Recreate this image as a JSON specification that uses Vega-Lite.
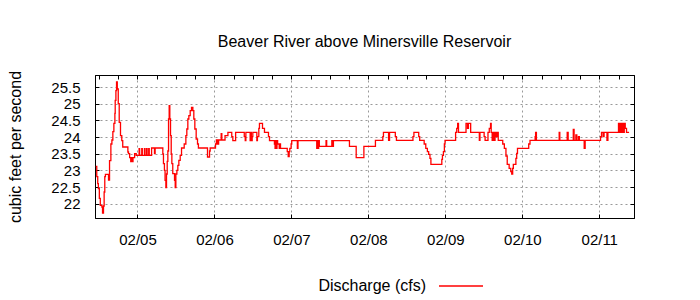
{
  "$schema": "https://vega.github.io/schema/vega-lite/v6.json",
  "width": 539,
  "height": 143,
  "autosize": {"type": "none"},
  "padding": {"left": 95, "top": 75, "right": 66, "bottom": 82},
  "background": "white",
  "title": {"text": "Beaver River above Minersville Reservoir", "font": "Liberation Sans", "fontSize": 16, "fontWeight": "normal", "color": "black", "anchor": "middle", "offset": 20},
  "config": {"view": {"stroke": "black", "strokeWidth": 1}, "font": "Liberation Sans"},
  "data": {"values": [
    {"t": "2011-02-04T11:00", "q": 23.12},
    {"t": "2011-02-04T11:18", "q": 22.81},
    {"t": "2011-02-04T11:36", "q": 22.6},
    {"t": "2011-02-04T11:48", "q": 22.45},
    {"t": "2011-02-04T12:06", "q": 22.16},
    {"t": "2011-02-04T12:24", "q": 21.95},
    {"t": "2011-02-04T12:54", "q": 21.9},
    {"t": "2011-02-04T13:06", "q": 21.72},
    {"t": "2011-02-04T13:24", "q": 21.93},
    {"t": "2011-02-04T13:36", "q": 22.35},
    {"t": "2011-02-04T13:48", "q": 22.81},
    {"t": "2011-02-04T14:00", "q": 22.88},
    {"t": "2011-02-04T14:58", "q": 22.71},
    {"t": "2011-02-04T15:17", "q": 23.29},
    {"t": "2011-02-04T15:42", "q": 23.79},
    {"t": "2011-02-04T16:01", "q": 23.91},
    {"t": "2011-02-04T16:19", "q": 24.16},
    {"t": "2011-02-04T16:38", "q": 24.41},
    {"t": "2011-02-04T16:57", "q": 24.71},
    {"t": "2011-02-04T17:03", "q": 25.1},
    {"t": "2011-02-04T17:16", "q": 25.39},
    {"t": "2011-02-04T17:28", "q": 25.65},
    {"t": "2011-02-04T17:42", "q": 25.44},
    {"t": "2011-02-04T18:00", "q": 25.0},
    {"t": "2011-02-04T18:18", "q": 24.44},
    {"t": "2011-02-04T18:42", "q": 24.04},
    {"t": "2011-02-04T19:06", "q": 23.89},
    {"t": "2011-02-04T19:24", "q": 23.7},
    {"t": "2011-02-04T21:00", "q": 23.55},
    {"t": "2011-02-04T21:12", "q": 23.5},
    {"t": "2011-02-04T21:33", "q": 23.38},
    {"t": "2011-02-04T21:54", "q": 23.26},
    {"t": "2011-02-04T22:09", "q": 23.38},
    {"t": "2011-02-04T22:24", "q": 23.26},
    {"t": "2011-02-04T22:36", "q": 23.38},
    {"t": "2011-02-04T23:06", "q": 23.5},
    {"t": "2011-02-04T23:36", "q": 23.45},
    {"t": "2011-02-05T00:00", "q": 23.45},
    {"t": "2011-02-05T00:30", "q": 23.65},
    {"t": "2011-02-05T00:40", "q": 23.45},
    {"t": "2011-02-05T01:20", "q": 23.65},
    {"t": "2011-02-05T01:30", "q": 23.45},
    {"t": "2011-02-05T02:10", "q": 23.65},
    {"t": "2011-02-05T02:20", "q": 23.45},
    {"t": "2011-02-05T02:50", "q": 23.65},
    {"t": "2011-02-05T03:00", "q": 23.45},
    {"t": "2011-02-05T03:30", "q": 23.65},
    {"t": "2011-02-05T03:40", "q": 23.45},
    {"t": "2011-02-05T04:24", "q": 23.67},
    {"t": "2011-02-05T05:18", "q": 23.5},
    {"t": "2011-02-05T05:30", "q": 23.67},
    {"t": "2011-02-05T07:54", "q": 23.49},
    {"t": "2011-02-05T08:06", "q": 23.2},
    {"t": "2011-02-05T08:24", "q": 23.0},
    {"t": "2011-02-05T08:36", "q": 22.7},
    {"t": "2011-02-05T08:51", "q": 22.48},
    {"t": "2011-02-05T09:03", "q": 22.89},
    {"t": "2011-02-05T09:16", "q": 23.27},
    {"t": "2011-02-05T09:28", "q": 23.58},
    {"t": "2011-02-05T09:41", "q": 24.54},
    {"t": "2011-02-05T09:53", "q": 24.94},
    {"t": "2011-02-05T10:05", "q": 24.54},
    {"t": "2011-02-05T10:18", "q": 24.04},
    {"t": "2011-02-05T10:31", "q": 23.49},
    {"t": "2011-02-05T10:43", "q": 23.2},
    {"t": "2011-02-05T11:00", "q": 22.9},
    {"t": "2011-02-05T11:33", "q": 22.7},
    {"t": "2011-02-05T11:46", "q": 22.48},
    {"t": "2011-02-05T11:58", "q": 22.89},
    {"t": "2011-02-05T12:17", "q": 23.0},
    {"t": "2011-02-05T12:35", "q": 23.15},
    {"t": "2011-02-05T12:54", "q": 23.3},
    {"t": "2011-02-05T13:19", "q": 23.45},
    {"t": "2011-02-05T13:44", "q": 23.67},
    {"t": "2011-02-05T14:34", "q": 23.79},
    {"t": "2011-02-05T15:05", "q": 24.04},
    {"t": "2011-02-05T15:23", "q": 24.24},
    {"t": "2011-02-05T15:42", "q": 24.54},
    {"t": "2011-02-05T16:01", "q": 24.64},
    {"t": "2011-02-05T16:26", "q": 24.79},
    {"t": "2011-02-05T16:51", "q": 24.89},
    {"t": "2011-02-05T17:16", "q": 24.79},
    {"t": "2011-02-05T17:34", "q": 24.54},
    {"t": "2011-02-05T17:53", "q": 24.24},
    {"t": "2011-02-05T18:18", "q": 23.94},
    {"t": "2011-02-05T18:43", "q": 23.79},
    {"t": "2011-02-05T19:00", "q": 23.67},
    {"t": "2011-02-05T21:50", "q": 23.4},
    {"t": "2011-02-05T22:28", "q": 23.58},
    {"t": "2011-02-05T22:40", "q": 23.67},
    {"t": "2011-02-06T00:20", "q": 23.79},
    {"t": "2011-02-06T00:36", "q": 23.91},
    {"t": "2011-02-06T00:57", "q": 23.79},
    {"t": "2011-02-06T01:18", "q": 23.91},
    {"t": "2011-02-06T02:06", "q": 24.1},
    {"t": "2011-02-06T02:18", "q": 23.91},
    {"t": "2011-02-06T03:18", "q": 24.04},
    {"t": "2011-02-06T04:12", "q": 24.14},
    {"t": "2011-02-06T05:24", "q": 24.01},
    {"t": "2011-02-06T05:44", "q": 23.89},
    {"t": "2011-02-06T06:36", "q": 24.14},
    {"t": "2011-02-06T09:18", "q": 24.01},
    {"t": "2011-02-06T09:36", "q": 23.89},
    {"t": "2011-02-06T09:48", "q": 24.14},
    {"t": "2011-02-06T11:08", "q": 23.89},
    {"t": "2011-02-06T11:21", "q": 24.14},
    {"t": "2011-02-06T11:30", "q": 23.89},
    {"t": "2011-02-06T11:46", "q": 24.01},
    {"t": "2011-02-06T11:58", "q": 24.14},
    {"t": "2011-02-06T13:13", "q": 23.89},
    {"t": "2011-02-06T13:24", "q": 24.01},
    {"t": "2011-02-06T13:50", "q": 24.26},
    {"t": "2011-02-06T14:02", "q": 24.41},
    {"t": "2011-02-06T14:59", "q": 24.26},
    {"t": "2011-02-06T15:36", "q": 24.14},
    {"t": "2011-02-06T16:51", "q": 24.01},
    {"t": "2011-02-06T17:10", "q": 23.89},
    {"t": "2011-02-06T18:42", "q": 23.79},
    {"t": "2011-02-06T18:54", "q": 23.66},
    {"t": "2011-02-06T19:06", "q": 23.89},
    {"t": "2011-02-06T19:18", "q": 23.66},
    {"t": "2011-02-06T19:30", "q": 23.89},
    {"t": "2011-02-06T19:42", "q": 23.79},
    {"t": "2011-02-06T20:12", "q": 23.66},
    {"t": "2011-02-06T20:24", "q": 23.79},
    {"t": "2011-02-06T20:36", "q": 23.66},
    {"t": "2011-02-06T22:42", "q": 23.56},
    {"t": "2011-02-06T23:00", "q": 23.41},
    {"t": "2011-02-06T23:18", "q": 23.56},
    {"t": "2011-02-06T23:30", "q": 23.66},
    {"t": "2011-02-06T23:54", "q": 23.79},
    {"t": "2011-02-07T00:06", "q": 23.89},
    {"t": "2011-02-07T01:51", "q": 23.66},
    {"t": "2011-02-07T02:03", "q": 23.89},
    {"t": "2011-02-07T07:54", "q": 23.66},
    {"t": "2011-02-07T08:06", "q": 23.89},
    {"t": "2011-02-07T08:18", "q": 23.66},
    {"t": "2011-02-07T08:30", "q": 23.89},
    {"t": "2011-02-07T08:42", "q": 23.72},
    {"t": "2011-02-07T10:48", "q": 23.89},
    {"t": "2011-02-07T11:00", "q": 23.72},
    {"t": "2011-02-07T12:36", "q": 23.89},
    {"t": "2011-02-07T12:54", "q": 23.72},
    {"t": "2011-02-07T13:06", "q": 23.89},
    {"t": "2011-02-07T18:06", "q": 23.72},
    {"t": "2011-02-07T20:12", "q": 23.38},
    {"t": "2011-02-07T22:36", "q": 23.72},
    {"t": "2011-02-08T02:12", "q": 23.9},
    {"t": "2011-02-08T04:30", "q": 24.01},
    {"t": "2011-02-08T04:42", "q": 24.14},
    {"t": "2011-02-08T06:18", "q": 23.9},
    {"t": "2011-02-08T06:36", "q": 24.14},
    {"t": "2011-02-08T08:24", "q": 24.01},
    {"t": "2011-02-08T08:45", "q": 23.9},
    {"t": "2011-02-08T13:54", "q": 24.01},
    {"t": "2011-02-08T14:12", "q": 24.14},
    {"t": "2011-02-08T15:42", "q": 24.01},
    {"t": "2011-02-08T16:00", "q": 23.9},
    {"t": "2011-02-08T17:24", "q": 23.79},
    {"t": "2011-02-08T17:54", "q": 23.66},
    {"t": "2011-02-08T18:24", "q": 23.56},
    {"t": "2011-02-08T18:48", "q": 23.48},
    {"t": "2011-02-08T19:12", "q": 23.36},
    {"t": "2011-02-08T19:30", "q": 23.18},
    {"t": "2011-02-08T22:54", "q": 23.33},
    {"t": "2011-02-08T23:06", "q": 23.45},
    {"t": "2011-02-08T23:24", "q": 23.56},
    {"t": "2011-02-08T23:42", "q": 23.79},
    {"t": "2011-02-08T23:54", "q": 23.9},
    {"t": "2011-02-09T03:12", "q": 24.14},
    {"t": "2011-02-09T03:33", "q": 24.26},
    {"t": "2011-02-09T03:51", "q": 24.41},
    {"t": "2011-02-09T04:06", "q": 24.14},
    {"t": "2011-02-09T06:27", "q": 24.41},
    {"t": "2011-02-09T06:54", "q": 24.26},
    {"t": "2011-02-09T07:12", "q": 24.41},
    {"t": "2011-02-09T07:54", "q": 24.14},
    {"t": "2011-02-09T10:36", "q": 23.9},
    {"t": "2011-02-09T10:48", "q": 24.14},
    {"t": "2011-02-09T12:06", "q": 24.01},
    {"t": "2011-02-09T12:24", "q": 23.9},
    {"t": "2011-02-09T13:18", "q": 24.14},
    {"t": "2011-02-09T13:42", "q": 24.26},
    {"t": "2011-02-09T14:06", "q": 24.41},
    {"t": "2011-02-09T14:18", "q": 24.14},
    {"t": "2011-02-09T14:36", "q": 23.9},
    {"t": "2011-02-09T14:54", "q": 24.14},
    {"t": "2011-02-09T15:12", "q": 23.9},
    {"t": "2011-02-09T15:30", "q": 24.14},
    {"t": "2011-02-09T15:48", "q": 24.01},
    {"t": "2011-02-09T16:06", "q": 24.14},
    {"t": "2011-02-09T16:30", "q": 23.9},
    {"t": "2011-02-09T17:54", "q": 23.79},
    {"t": "2011-02-09T18:24", "q": 23.66},
    {"t": "2011-02-09T18:54", "q": 23.43},
    {"t": "2011-02-09T19:18", "q": 23.18},
    {"t": "2011-02-09T19:54", "q": 23.06},
    {"t": "2011-02-09T20:24", "q": 22.96},
    {"t": "2011-02-09T20:42", "q": 22.89},
    {"t": "2011-02-09T21:00", "q": 23.06},
    {"t": "2011-02-09T21:12", "q": 23.18},
    {"t": "2011-02-09T22:00", "q": 23.36},
    {"t": "2011-02-09T22:15", "q": 23.51},
    {"t": "2011-02-09T22:30", "q": 23.66},
    {"t": "2011-02-10T02:00", "q": 23.79},
    {"t": "2011-02-10T02:24", "q": 23.9},
    {"t": "2011-02-10T04:00", "q": 24.01},
    {"t": "2011-02-10T04:09", "q": 24.14},
    {"t": "2011-02-10T04:24", "q": 23.9},
    {"t": "2011-02-10T11:30", "q": 24.14},
    {"t": "2011-02-10T11:42", "q": 23.9},
    {"t": "2011-02-10T14:00", "q": 24.14},
    {"t": "2011-02-10T14:18", "q": 23.9},
    {"t": "2011-02-10T15:54", "q": 24.23},
    {"t": "2011-02-10T16:09", "q": 23.9},
    {"t": "2011-02-10T16:42", "q": 24.06},
    {"t": "2011-02-10T17:00", "q": 23.9},
    {"t": "2011-02-10T17:30", "q": 24.01},
    {"t": "2011-02-10T17:48", "q": 23.9},
    {"t": "2011-02-10T19:18", "q": 23.66},
    {"t": "2011-02-10T19:36", "q": 23.9},
    {"t": "2011-02-11T00:24", "q": 24.01},
    {"t": "2011-02-11T00:42", "q": 24.14},
    {"t": "2011-02-11T01:12", "q": 24.01},
    {"t": "2011-02-11T01:30", "q": 24.14},
    {"t": "2011-02-11T02:24", "q": 23.9},
    {"t": "2011-02-11T02:42", "q": 24.14},
    {"t": "2011-02-11T06:00", "q": 24.41},
    {"t": "2011-02-11T06:18", "q": 24.14},
    {"t": "2011-02-11T06:36", "q": 24.41},
    {"t": "2011-02-11T06:54", "q": 24.14},
    {"t": "2011-02-11T07:12", "q": 24.41},
    {"t": "2011-02-11T07:30", "q": 24.14},
    {"t": "2011-02-11T07:48", "q": 24.41},
    {"t": "2011-02-11T08:06", "q": 24.26},
    {"t": "2011-02-11T08:30", "q": 24.14},
    {"t": "2011-02-11T09:18", "q": 24.14}
  ]},
  "layer": [
    {
      "mark": {"type": "line", "interpolate": "step-after", "strokeWidth": 1.3, "color": "#ff0000"},
      "encoding": {
        "x": {"field": "t", "type": "temporal",
          "scale": {"domain": [{"year": 2011, "month": 2, "date": 4, "hours": 10, "minutes": 45}, {"year": 2011, "month": 2, "date": 11, "hours": 10, "minutes": 50}]},
          "axis": {"orient": "bottom", "title": null, "format": "%m/%d",
            "values": [
              {"year": 2011, "month": 2, "date": 5}, {"year": 2011, "month": 2, "date": 6}, {"year": 2011, "month": 2, "date": 7},
              {"year": 2011, "month": 2, "date": 8}, {"year": 2011, "month": 2, "date": 9}, {"year": 2011, "month": 2, "date": 10},
              {"year": 2011, "month": 2, "date": 11}],
            "labelFont": "Liberation Sans", "labelFontSize": 15, "labelColor": "black", "labelPadding": 18, "labelFlush": false,
            "tickSize": -4, "tickColor": "black", "domainColor": "black",
            "grid": true, "gridDash": [2, 3], "gridColor": "#999999"}
        },
        "y": {"field": "q", "type": "quantitative",
          "scale": {"domain": [21.57, 25.86], "nice": false, "zero": false},
          "axis": {"orient": "left", "values": [22, 22.5, 23, 23.5, 24, 24.5, 25, 25.5], "format": "~g",
            "labelFont": "Liberation Sans", "labelFontSize": 15, "labelColor": "black", "labelPadding": 19,
            "tickSize": -4, "tickColor": "black", "domainColor": "black",
            "grid": true, "gridDash": [2, 3], "gridColor": "#999999",
            "title": "cubic feet per second", "titleFont": "Liberation Sans", "titleFontSize": 16, "titleFontWeight": "normal", "titleColor": "black",
            "titlePadding": 27}
        },
        "color": {"datum": "Discharge (cfs)", "type": "nominal", "scale": {"range": ["#ff0000"]},
          "legend": {"orient": "none", "legendX": 343, "legendY": 188, "title": null,
            "labelFont": "Liberation Sans", "labelFontSize": 16, "labelColor": "black", "labelAlign": "right", "labelOffset": -58, "labelLimit": 300,
            "symbolType": "stroke", "symbolSize": 1936, "symbolStrokeWidth": 1.3, "symbolStrokeColor": "#ff0000"}}
      }
    },
    {
      "mark": {"type": "line", "opacity": 0},
      "encoding": {
        "x": {"field": "t", "type": "temporal",
          "axis": {"orient": "top", "title": null, "labels": false, "grid": false, "tickCount": 28,
            "tickSize": -4, "tickColor": "black", "domainColor": "black"}},
        "y": {"field": "q", "type": "quantitative",
          "axis": {"orient": "right", "title": null, "values": [22, 22.5, 23, 23.5, 24, 24.5, 25, 25.5], "labels": false, "grid": false,
            "tickSize": -4, "tickColor": "black", "domainColor": "black"}}
      }
    }
  ],
  "resolve": {"axis": {"x": "independent", "y": "independent"}}
}
